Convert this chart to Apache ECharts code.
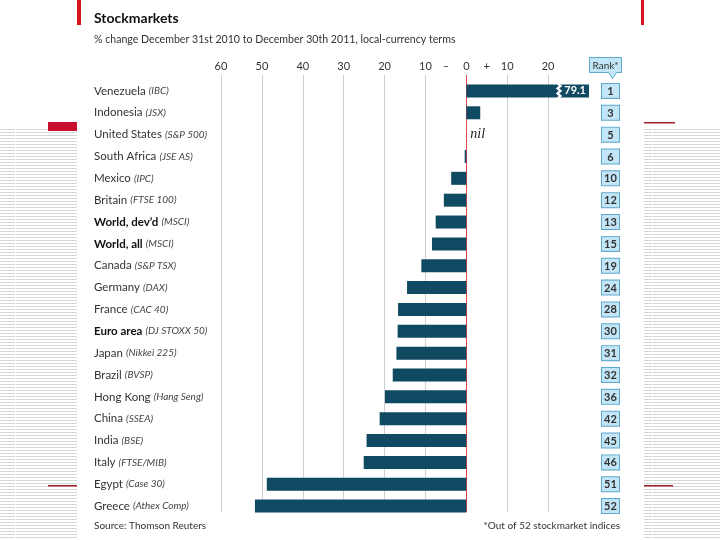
<!DOCTYPE html>
<html><head><meta charset="utf-8">
<script src="https://cdn.jsdelivr.net/npm/echarts@6/dist/echarts.min.js"></script>
<style>html,body{margin:0;padding:0;background:#fff}#c{width:720px;height:540px}</style>
</head><body><div id="c"></div>
<script>
const categories = ['Venezuela', 'Indonesia', 'United States', 'South Africa', 'Mexico', 'Britain', 'World, dev\u2019d', 'World, all', 'Canada', 'Germany', 'France', 'Euro area', 'Japan', 'Brazil', 'Hong Kong', 'China', 'India', 'Italy', 'Egypt', 'Greece'];
const indices = ['IBC', 'JSX', 'S&P 500', 'JSE AS', 'IPC', 'FTSE 100', 'MSCI', 'MSCI', 'S&P TSX', 'DAX', 'CAC 40', 'DJ STOXX 50', 'Nikkei 225', 'BVSP', 'Hang Seng', 'SSEA', 'BSE', 'FTSE/MIB', 'Case 30', 'Athex Comp'];
const values = [79.1, 3.4, 0, -0.4, -3.7, -5.5, -7.5, -8.4, -11.0, -14.5, -16.7, -16.8, -17.1, -18.0, -19.9, -21.2, -24.4, -25.1, -48.8, -51.7];
const ranks = [1, 3, 5, 6, 10, 12, 13, 15, 19, 24, 28, 30, 31, 32, 36, 42, 45, 46, 51, 52];
const boldRows = ['World, dev\u2019d', 'World, all', 'Euro area'];
const axisMin = -60, axisMax = 30, tickStep = 10, signStep = 5;
const breakAt = 22.3;

const FONT = 'Lato';
const BAR = '#0f4a62';
const chart = echarts.init(document.getElementById('c'), null, {renderer: 'canvas'});

// striped background pattern (slide template)
const pc = document.createElement('canvas'); pc.width = 4; pc.height = 3;
const pctx = pc.getContext('2d');
pctx.fillStyle = '#ffffff'; pctx.fillRect(0, 0, 4, 3);
pctx.fillStyle = '#d6d6d6'; pctx.fillRect(0, 0, 4, 1);
const stripe = {image: pc, repeat: 'repeat'};

const barData = values.map(function (v) {
  if (v > axisMax) {
    return {value: v, label: {show: true, position: 'insideRight', distance: 3, color: '#fff', fontFamily: FONT, fontSize: 11, fontWeight: 'bold', formatter: function (p) { return p.value.toFixed(1); }}};
  }
  if (v === 0) {
    return {value: v, label: {show: true, position: 'right', distance: 4, color: '#222', fontFamily: 'Liberation Serif', fontStyle: 'italic', fontSize: 14, formatter: 'nil'}};
  }
  return v;
});

const gridColors = [];
for (let v = axisMin; v <= axisMax; v += tickStep) {
  gridColors.push(v === 0 ? '#e0454f' : (v === axisMax ? 'rgba(0,0,0,0)' : '#cfcfcf'));
}

const option = {
  backgroundColor: '#fff',
  animation: false,
  grid: [
    {left: 221, right: 131, top: 80, bottom: 23},
    {left: 221, right: 131, top: 75, bottom: 28}
  ],
  xAxis: [
    {type: 'value', gridIndex: 1, position: 'top', min: axisMin, max: axisMax, interval: tickStep,
     axisLine: {show: false}, axisTick: {show: false},
     axisLabel: {margin: 3, color: '#333', fontFamily: FONT, fontSize: 11,
       formatter: function (v) { return v === axisMax ? '' : String(Math.abs(v)); }},
     splitLine: {show: true, lineStyle: {color: gridColors, width: 1}}},
    {type: 'value', gridIndex: 1, position: 'top', min: axisMin, max: axisMax, interval: signStep,
     axisLine: {show: false}, axisTick: {show: false}, splitLine: {show: false},
     axisLabel: {margin: 3, color: '#333', fontFamily: FONT, fontSize: 11,
       formatter: function (v) { return v === -signStep ? '\u2013' : (v === signStep ? '+' : ''); }}},
    {type: 'value', gridIndex: 0, min: axisMin, max: axisMax, show: false}
  ],
  yAxis: [
    {type: 'category', gridIndex: 0, inverse: true, data: categories,
     axisLine: {show: false}, axisTick: {show: false},
     axisLabel: {align: 'left', margin: 127, fontFamily: FONT,
       formatter: function (val, idx) {
         const st = boldRows.indexOf(val) >= 0 ? 'b' : 'n';
         return '{' + st + '|' + val + '} {i|(' + indices[idx] + ')}';
       },
       rich: {
         n: {fontFamily: FONT, fontSize: 11.5, color: '#333'},
         b: {fontFamily: FONT, fontSize: 11.5, color: '#111', fontWeight: 'bold'},
         i: {fontFamily: FONT, fontSize: 10, color: '#444', fontStyle: 'italic'}
       }}},
    {type: 'category', gridIndex: 0, inverse: true, position: 'right', data: ranks,
     axisLine: {show: false}, axisTick: {show: false},
     axisLabel: {align: 'left', margin: 13, formatter: function (v) { return '{r|' + v + '}'; },
       rich: {r: {fontFamily: FONT, fontSize: 11, fontWeight: 'bold', color: '#333', width: 13, align: 'center',
         backgroundColor: '#c2e6f7', borderColor: '#5fa7c9', borderWidth: 1, padding: [2, 2, 1, 2]}}}},
    {type: 'value', gridIndex: 1, show: false, min: 0, max: 1}
  ],
  series: [{
    type: 'bar', xAxisIndex: 2, yAxisIndex: 0, data: barData, barWidth: 13, clip: true,
    itemStyle: {color: BAR}
  }],
  graphic: [
    {type: 'rect', shape: {x: 0, y: 128, width: 77, height: 412}, style: {fill: stripe}, silent: true, z: -10},
    {type: 'rect', shape: {x: 644, y: 128, width: 76, height: 412}, style: {fill: stripe}, silent: true, z: -10},
    {type: 'rect', shape: {x: 15, y: 128, width: 1, height: 412}, style: {fill: '#fff'}, silent: true, z: -9},
    {type: 'rect', shape: {x: 652, y: 128, width: 1, height: 412}, style: {fill: '#fff'}, silent: true, z: -9},
    {type: 'rect', shape: {x: 48, y: 122, width: 29, height: 9}, style: {fill: '#c8102e'}, silent: true},
    {type: 'rect', shape: {x: 48, y: 485, width: 29, height: 1.5}, style: {fill: '#a3202a'}, silent: true},
    {type: 'rect', shape: {x: 644, y: 122, width: 31, height: 1.5}, style: {fill: '#a3202a'}, silent: true},
    {type: 'rect', shape: {x: 644, y: 485, width: 29, height: 1.5}, style: {fill: '#a3202a'}, silent: true},
    {type: 'rect', shape: {x: 77, y: 0, width: 4, height: 25}, style: {fill: '#d7141e'}, silent: true},
    {type: 'rect', shape: {x: 641, y: 0, width: 3, height: 25}, style: {fill: '#d7141e'}, silent: true},
    {type: 'text', left: 94, top: 11, style: {text: 'Stockmarkets', font: 'bold 14px ' + FONT, fill: '#111'}},
    {type: 'text', left: 94, top: 34, style: {text: '% change December 31st 2010 to December 30th 2011, local-currency terms', font: '10.6px ' + FONT, fill: '#333'}},
    {type: 'text', left: 94, top: 521, style: {text: 'Source: Thomson Reuters', font: '10px ' + FONT, fill: '#333'}},
    {type: 'text', right: 100, top: 521, style: {text: '*Out of 52 stockmarket indices', font: '10px ' + FONT, fill: '#333', align: 'right'}},
    {type: 'group', left: 589, top: 57, children: [
      {type: 'polygon', shape: {points: [[0, 0], [32, 0], [32, 15], [27, 15], [23, 21], [19, 15], [0, 15]]},
       style: {fill: '#c2e6f7', stroke: '#5fa7c9', lineWidth: 1}},
      {type: 'text', x: 16, y: 8, style: {text: 'Rank*', font: '10px ' + FONT, fill: '#333', align: 'center', verticalAlign: 'middle'}}
    ]}
  ]
};
chart.setOption(option);

// draw the scale break on the truncated bar
const bx = chart.convertToPixel({xAxisIndex: 2}, breakAt);
const by = chart.convertToPixel({yAxisIndex: 0}, categories[0]);
const h = 13, pts = [];
for (let k = 0; k <= 6; k++) {
  pts.push([bx + (k % 2 === 0 ? 0 : 3), by - h / 2 - 1 + k * (h + 2) / 6]);
}
chart.setOption({graphic: option.graphic.concat([
  {type: 'polyline', shape: {points: pts}, style: {stroke: '#fff', lineWidth: 2.2, fill: null}, z: 100, silent: true}
])});
</script></body></html>
